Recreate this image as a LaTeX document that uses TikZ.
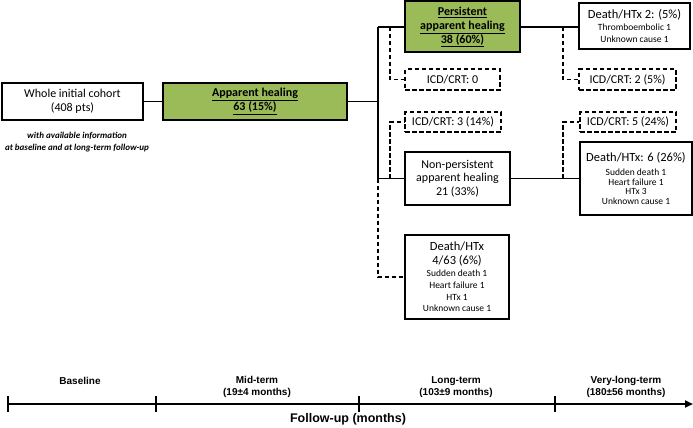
\documentclass[tikz,border=0pt]{standalone}
\usepackage{fontspec}
\setmainfont{Carlito}
\newfontfamily\arialfont{Liberation Sans}
\usetikzlibrary{arrows.meta}
\definecolor{healgreen}{HTML}{9BBB59}
\begin{document}
\begin{tikzpicture}[x=1pt,y=-1pt,
  box/.style={draw,line width=2pt,inner sep=0pt,align=center,font=\fontsize{12}{13.5}\selectfont},
  healbox/.style={box,fill=healgreen,font=\bfseries\fontsize{12}{14}\selectfont},
  icdbox/.style={box,dash pattern=on 4.5pt off 2.5pt,minimum width=96pt,minimum height=20pt},
  smallbox/.style={box,font=\fontsize{9.5}{11.8}\selectfont},
  link/.style={line width=1.4pt},
  dlink/.style={link,dash pattern=on 4.5pt off 2.5pt},
  axis/.style={line width=2pt},
  tl/.style={font=\arialfont\bfseries\fontsize{10}{12}\selectfont,align=center}]
\useasboundingbox (0,0) rectangle (693,428);
% cohort
\node[box,minimum width=141pt,minimum height=37pt] (cohort) at (72.5,101.5) {Whole initial cohort\\(408 pts)};
\node[font=\bfseries\itshape\fontsize{9}{12}\selectfont,align=center] (note) at (77,142)
  {with available information\\at baseline and at long-term follow-up};
\node[healbox,minimum width=184pt,minimum height=37pt] (app) at (255,101.5) {\underline{Apparent healing}\\\underline{63 (15\%)}};
% persistent branch
\node[healbox,minimum width=115pt,minimum height=51pt] (pers) at (462.5,27)
  {\underline{Persistent}\\\underline{apparent healing}\\\underline{38 (60\%)}};
\node[smallbox,minimum width=111pt,minimum height=46pt] (d2) at (634.5,26)
  {{\fontsize{12.5}{13}\selectfont Death/HTx 2: (5\%)}\\Thromboembolic 1\\Unknown cause 1};
\node[icdbox,minimum width=95pt] (icd0) at (452.5,79.5) {ICD/CRT: 0};
\node[icdbox,minimum width=97pt] (icd2) at (627.5,79.5) {ICD/CRT: 2 (5\%)};
% non-persistent branch
\node[icdbox] (icd3) at (453,122) {ICD/CRT: 3 (14\%)};
\node[icdbox] (icd5) at (628,122) {ICD/CRT: 5 (24\%)};
\node[box,minimum width=105pt,minimum height=53pt] (np) at (457.5,178.5)
  {Non-persistent\\apparent healing\\21 (33\%)};
\node[box,font=\fontsize{9.5}{9.6}\selectfont,minimum width=112pt,minimum height=73pt] (d6) at (636,178.5)
  {{\fontsize{12.5}{13}\selectfont Death/HTx: 6 (26\%)}\\[4pt]Sudden death 1\\Heart failure 1\\HTx 3\\Unknown cause 1};
\node[smallbox,minimum width=104pt,minimum height=84pt] (d4) at (457,277)
  {{\fontsize{12.5}{13}\selectfont Death/HTx}\\[2pt]{\fontsize{12.5}{13}\selectfont 4/63 (6\%)}\\Sudden death 1\\Heart failure 1\\HTx 1\\Unknown cause 1};
% connectors
\coordinate (split) at (378,101.5);
\coordinate (vtop) at (378,27);
\coordinate (vmid) at (378,178.5);
\coordinate (vbot) at (378,277);
\coordinate (b0) at (390,27);
\coordinate (b2) at (563,27);
\coordinate (b3) at (390,178.5);
\coordinate (b5) at (563,178.5);
\draw[link] (cohort) -- (app);
\draw[link] (app) -- (split);
\draw[link] (vtop) -- (vmid);
\draw[link] (vtop) -- (pers);
\draw[link] (pers.east) -- (d2.west |- pers.east);
\draw[link] (vmid) -- (np);
\draw[link] (np) -- (d6);
\draw[dlink] (vmid) -- (vbot) -- (d4.west);
\draw[dlink] (b0) |- (icd0.west);
\draw[dlink] (b2) |- (icd2.west);
\draw[dlink] (b3) |- (icd3.west);
\draw[dlink] (b5) |- (icd5.west);
% time axis
\coordinate (t0) at (7,404);
\coordinate (tend) at (693,404);
\draw[axis,-{Triangle[length=8pt,width=7pt]}] (t0) -- (tend);
\foreach \x in {8,156,359,555} \draw[axis] (\x,396) -- (\x,412);
\node[tl] (base) at (80,381) {Baseline};
\node[tl] (mid) at (257,387) {Mid-term\\(19±4 months)};
\node[tl] (long) at (456,387) {Long-term\\(103±9 months)};
\node[tl] (vlong) at (626,387) {Very-long-term\\(180±56 months)};
\node[tl,font=\arialfont\bfseries\fontsize{12.5}{14}\selectfont] (fu) at (348,419) {Follow-up (months)};
\end{tikzpicture}
\end{document}
